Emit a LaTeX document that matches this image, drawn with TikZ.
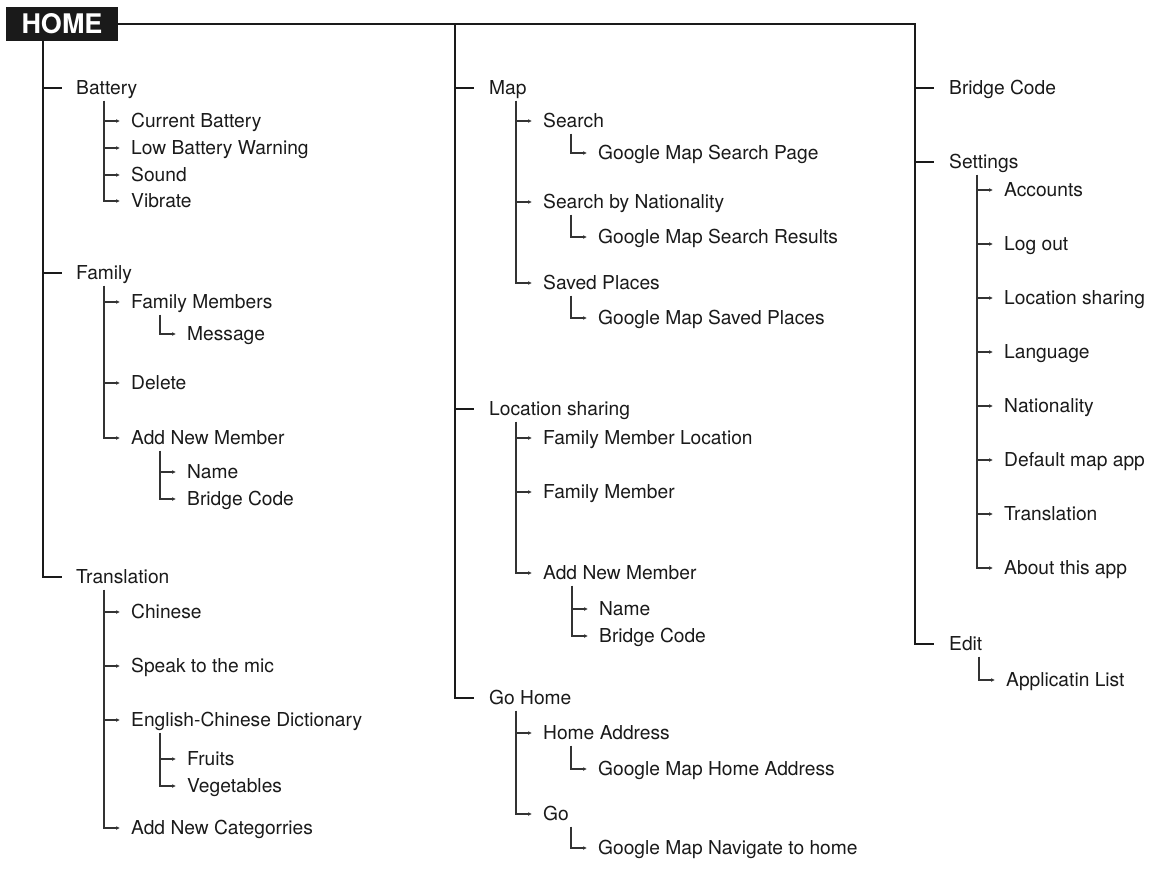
\documentclass[tikz,border=0pt]{standalone}
\usepackage{fontspec}
\setmainfont{TeX Gyre Heros}
\usetikzlibrary{arrows.meta,calc}
\definecolor{ink}{HTML}{1A1A1A}
\definecolor{thinink}{HTML}{333333}
\newcommand\subtrunk[2]{%
  \coordinate (#1-t) at ($(#1.south -| #2.west)+(-27,6)$);
  \draw[sub] (#1-t) |- ([xshift=-11pt]#2.west);}
\newcommand\subtick[2]{\draw[sub] (#2.west -| #1-t) -- ([xshift=-11pt]#2.west);}
\begin{document}
\begin{tikzpicture}[x=1pt,y=-1pt,
  lbl/.style={anchor=west,inner sep=0pt,text height=13pt,text depth=0pt,
    font=\fontsize{19.2}{22}\selectfont,text=ink},
  main/.style={line width=2.8pt,draw=ink,line join=miter},
  sub/.style={line width=1.2pt,draw=thinink,-{Latex[length=4pt,width=3.8pt]}}]
\fill[white] (0,0) rectangle (1169,869);
\useasboundingbox (0,0) rectangle (1169,869);

% root
\node[fill=ink,text=white,font=\fontsize{27}{27}\bfseries\selectfont,
  minimum width=112pt,minimum height=34pt,inner sep=0pt] (home) at (62,24) {HOME};
\coordinate (k1) at (43,24);
\coordinate (k2) at (455,24);
\coordinate (k3) at (915,24);

% ---------- column 1 ----------
\node[lbl] (bat) at (76,88) {Battery};
\node[lbl] (cb)  at (131,121) {Current Battery};
\node[lbl] (lbw) at (131,148) {Low Battery Warning};
\node[lbl] (snd) at (131,175) {Sound};
\node[lbl] (vib) at (131,201) {Vibrate};

\node[lbl] (fam) at (76,273) {Family};
\node[lbl] (fm)  at (131,302) {Family Members};
\node[lbl] (msg) at (187,334) {Message};
\node[lbl] (del) at (131,383) {Delete};
\node[lbl] (anma) at (131,438) {Add New Member};
\node[lbl] (nma) at (187,472) {Name};
\node[lbl] (bca) at (187,499) {Bridge Code};

\node[lbl] (tr)  at (76,577) {Translation};
\node[lbl] (chi) at (131,612) {Chinese};
\node[lbl] (spk) at (131,666) {Speak to the mic};
\node[lbl] (ecd) at (131,720) {English-Chinese Dictionary};
\node[lbl] (fru) at (187,759) {Fruits};
\node[lbl] (veg) at (187,786) {Vegetables};
\node[lbl] (anc) at (131,828) {Add New Categorries};

% ---------- column 2 ----------
\node[lbl] (map)  at (489,88) {Map};
\node[lbl] (srch) at (543,121) {Search};
\node[lbl] (gmsp) at (598,153) {Google Map Search Page};
\node[lbl] (sbn)  at (543,202) {Search by Nationality};
\node[lbl] (gmsr) at (598,237) {Google Map Search Results};
\node[lbl] (svp)  at (543,283) {Saved Places};
\node[lbl] (gmsv) at (598,318) {Google Map Saved Places};

\node[lbl] (ls)   at (489,409) {Location sharing};
\node[lbl] (fml)  at (543,438) {Family Member Location};
\node[lbl] (fmb)  at (543,492) {Family Member};
\node[lbl] (anmb) at (543,573) {Add New Member};
\node[lbl] (nmb)  at (599,609) {Name};
\node[lbl] (bcb)  at (599,636) {Bridge Code};

\node[lbl] (gh)   at (489,698) {Go Home};
\node[lbl] (ha)   at (543,733) {Home Address};
\node[lbl] (gmha) at (598,769) {Google Map Home Address};
\node[lbl] (go)   at (543,814) {Go};
\node[lbl] (gmnh) at (598,848) {Google Map Navigate to home};

% ---------- column 3 ----------
\node[lbl] (bcd)  at (949,88) {Bridge Code};
\node[lbl] (set)  at (949,162) {Settings};
\node[lbl] (acc)  at (1004,190) {Accounts};
\node[lbl] (lgo)  at (1004,244) {Log out};
\node[lbl] (lsc)  at (1004,298) {Location sharing};
\node[lbl] (lang) at (1004,352) {Language};
\node[lbl] (nat)  at (1004,406) {Nationality};
\node[lbl] (dma)  at (1004,460) {Default map app};
\node[lbl] (trc)  at (1004,514) {Translation};
\node[lbl] (ata)  at (1004,568) {About this app};
\node[lbl] (edit) at (949,644) {Edit};
\node[lbl] (al)   at (1006,680) {Applicatin List};

% ---------- main connectors ----------
\draw[main] (home.east) -- (k3) |- ([xshift=-15pt]edit.west);
\draw[main] (k3 |- bcd.west) -- ([xshift=-15pt]bcd.west);
\draw[main] (k3 |- set.west) -- ([xshift=-15pt]set.west);
\draw[main] (k2) |- ([xshift=-15pt]gh.west);
\draw[main] (k2 |- map.west) -- ([xshift=-15pt]map.west);
\draw[main] (k2 |- ls.west) -- ([xshift=-15pt]ls.west);
\draw[main] (home.south -| k1) |- ([xshift=-14pt]tr.west);
\draw[main] (k1 |- bat.west) -- ([xshift=-14pt]bat.west);
\draw[main] (k1 |- fam.west) -- ([xshift=-14pt]fam.west);

% ---------- sub connectors ----------
\subtrunk{bat}{vib}
\subtick{bat}{cb}\subtick{bat}{lbw}\subtick{bat}{snd}

\subtrunk{fam}{anma}
\subtick{fam}{fm}\subtick{fam}{del}
\subtrunk{fm}{msg}
\subtrunk{anma}{bca}
\subtick{anma}{nma}

\subtrunk{tr}{anc}
\subtick{tr}{chi}\subtick{tr}{spk}\subtick{tr}{ecd}
\subtrunk{ecd}{veg}
\subtick{ecd}{fru}

\subtrunk{map}{svp}
\subtick{map}{srch}\subtick{map}{sbn}
\subtrunk{srch}{gmsp}
\subtrunk{sbn}{gmsr}
\subtrunk{svp}{gmsv}

\subtrunk{ls}{anmb}
\subtick{ls}{fml}\subtick{ls}{fmb}
\subtrunk{anmb}{bcb}
\subtick{anmb}{nmb}

\subtrunk{gh}{go}
\subtick{gh}{ha}
\subtrunk{ha}{gmha}
\subtrunk{go}{gmnh}

\subtrunk{set}{ata}
\subtick{set}{acc}\subtick{set}{lgo}\subtick{set}{lsc}\subtick{set}{lang}
\subtick{set}{nat}\subtick{set}{dma}\subtick{set}{trc}
\subtrunk{edit}{al}
\end{tikzpicture}
\end{document}
